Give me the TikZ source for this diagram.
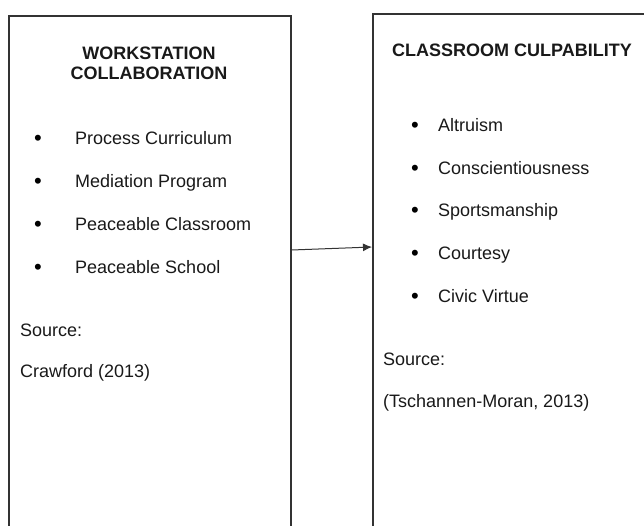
\documentclass[tikz,border=0pt]{standalone}
\usepackage{fontspec}
\setmainfont{Liberation Sans}
\usetikzlibrary{arrows.meta}

\tikzset{
  panel/.style={draw=black!80, line width=1.5pt, anchor=north west, inner sep=0pt},
  head/.style={inner sep=0pt, text=black!90, font=\fontsize{18}{20}\selectfont\bfseries},
  item/.style={anchor=base west, inner sep=0pt, text=black!90},
  dot/.style={anchor=base, inner sep=0pt, text=black, font=\fontsize{22}{22}\selectfont},
  link/.style={black!80, line width=1pt, -{Latex[length=9pt,width=8pt]}}
}

\begin{document}
\begin{tikzpicture}[x=1pt,y=-1pt,font=\fontsize{18}{20}\selectfont]
\useasboundingbox (0,0) rectangle (644,525);
\clip (0,0) rectangle (644,525);

% both panels run on past the page edge
\node [panel, minimum width=282pt, minimum height=560pt] (wc) at (8,15) {};
\node [panel, minimum width=320pt, minimum height=560pt] (cc) at (372,13) {};

\node [head, anchor=north, align=center] (wc-head) at (149,46.5) {WORKSTATION\\COLLABORATION};
\foreach \t [count=\i from 0] in {Process Curriculum, Mediation Program, Peaceable Classroom, Peaceable School}
{
  \node [dot] (wc-dot-\i) at (38,145.5+43*\i) {\textbullet};
  \node [item] (wc-item-\i) at (75,144.5+43*\i) {\t};
}
\node [item] (wc-src) at (20,336.5) {Source:};
\node [item] (wc-ref) at (20,377.5) {Crawford (2013)};

\node [head, anchor=base west] (cc-head) at (392,56.5) {CLASSROOM CULPABILITY};
\foreach \t [count=\i from 0] in {Altruism, Conscientiousness, Sportsmanship, Courtesy, Civic Virtue}
{
  \node [dot] (cc-dot-\i) at (415,132.5+42.7*\i) {\textbullet};
  \node [item] (cc-item-\i) at (438,131.5+42.7*\i) {\t};
}
\node [item] (cc-src) at (383,365.5) {Source:};
\node [item] (cc-ref) at (383,407.5) {(Tschannen-Moran, 2013)};

\draw [link] ([yshift=-235pt]wc.north east) -- ([yshift=-234pt]cc.north west);
\end{tikzpicture}
\end{document}
